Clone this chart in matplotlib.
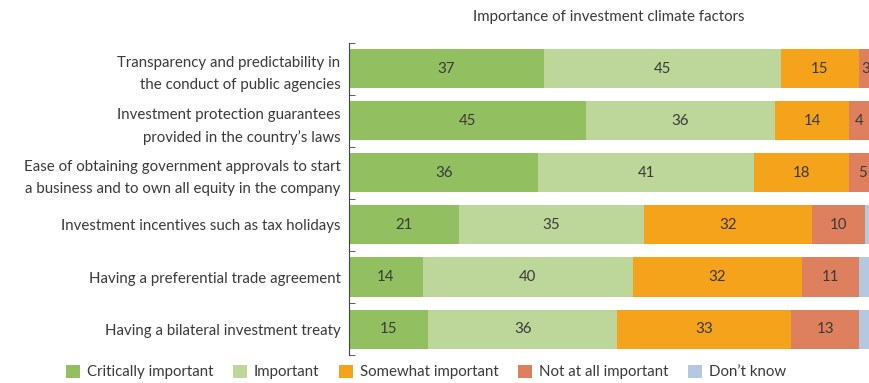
import matplotlib.pyplot as plt
import numpy as np

plt.rcParams['font.family'] = ['Lato', 'DejaVu Sans']

factors = [
    'Transparency and predictability in\nthe conduct of public agencies',
    'Investment protection guarantees\nprovided in the country\u2019s laws',
    'Ease of obtaining government approvals to start\na business and to own all equity in the company',
    'Investment incentives such as tax holidays',
    'Having a preferential trade agreement',
    'Having a bilateral investment treaty',
]
critically = [37, 45, 36, 21, 14, 15]
important = [45, 36, 41, 35, 40, 36]
somewhat = [15, 14, 18, 32, 32, 33]
not_at_all = [3, 4, 5, 10, 11, 13]
dont_know = [0, 1, 0, 2, 3, 3]

series = [
    ('Critically important', critically, '#92bf5f'),
    ('Important', important, '#bdd699'),
    ('Somewhat important', somewhat, '#f6a31c'),
    ('Not at all important', not_at_all, '#de805e'),
    ("Don\u2019t know", dont_know, '#b4c8e2'),
]
txt = '#3a3a3a'
fs = 10.8
xmax = 99

fig = plt.figure(figsize=(8.7, 3.83), dpi=100)
ax = fig.add_axes([0.401, 0.073, 0.599, 0.815])

y = np.arange(len(factors))
left = np.zeros(len(factors))
for name, vals, col in series:
    vals = np.array(vals, dtype=float)
    ax.barh(y, vals, left=left, height=0.75, color=col, label=name)
    if name != "Don\u2019t know":
        for yi, (l, v) in enumerate(zip(left, vals)):
            if v > 0:
                # keep labels of the last segments inside the plot edge
                xc = min(l + v / 2, xmax - 0.9)
                ax.text(xc, yi, f'{int(v)}', ha='center', va='center',
                        fontsize=fs, color=txt)
    left += vals

ax.set_xlim(0, xmax)
ax.set_ylim(len(factors) - 0.5, -0.5)
ax.set_yticks(y)
ax.set_yticklabels(factors, fontsize=fs, color=txt, linespacing=1.65)
ax.tick_params(axis='y', length=0, pad=6)
ax.set_yticks(np.arange(len(factors) + 1) - 0.5, minor=True)
ax.tick_params(axis='y', which='minor', direction='in', length=4, color='#444444')
ax.set_xticks([])
for s in ['top', 'right', 'bottom']:
    ax.spines[s].set_visible(False)
ax.spines['left'].set_color('#444444')

fig.text(0.70, 0.955, 'Importance of investment climate factors', ha='center',
         va='center', fontsize=fs, color=txt)

fig.legend(loc='center', bbox_to_anchor=(0.49, 0.028), ncol=5, frameon=False,
           fontsize=fs, handlelength=0.9, handleheight=0.9, handletextpad=0.5,
           columnspacing=1.3, labelcolor=txt)

fig.savefig('out.png', dpi=100)
